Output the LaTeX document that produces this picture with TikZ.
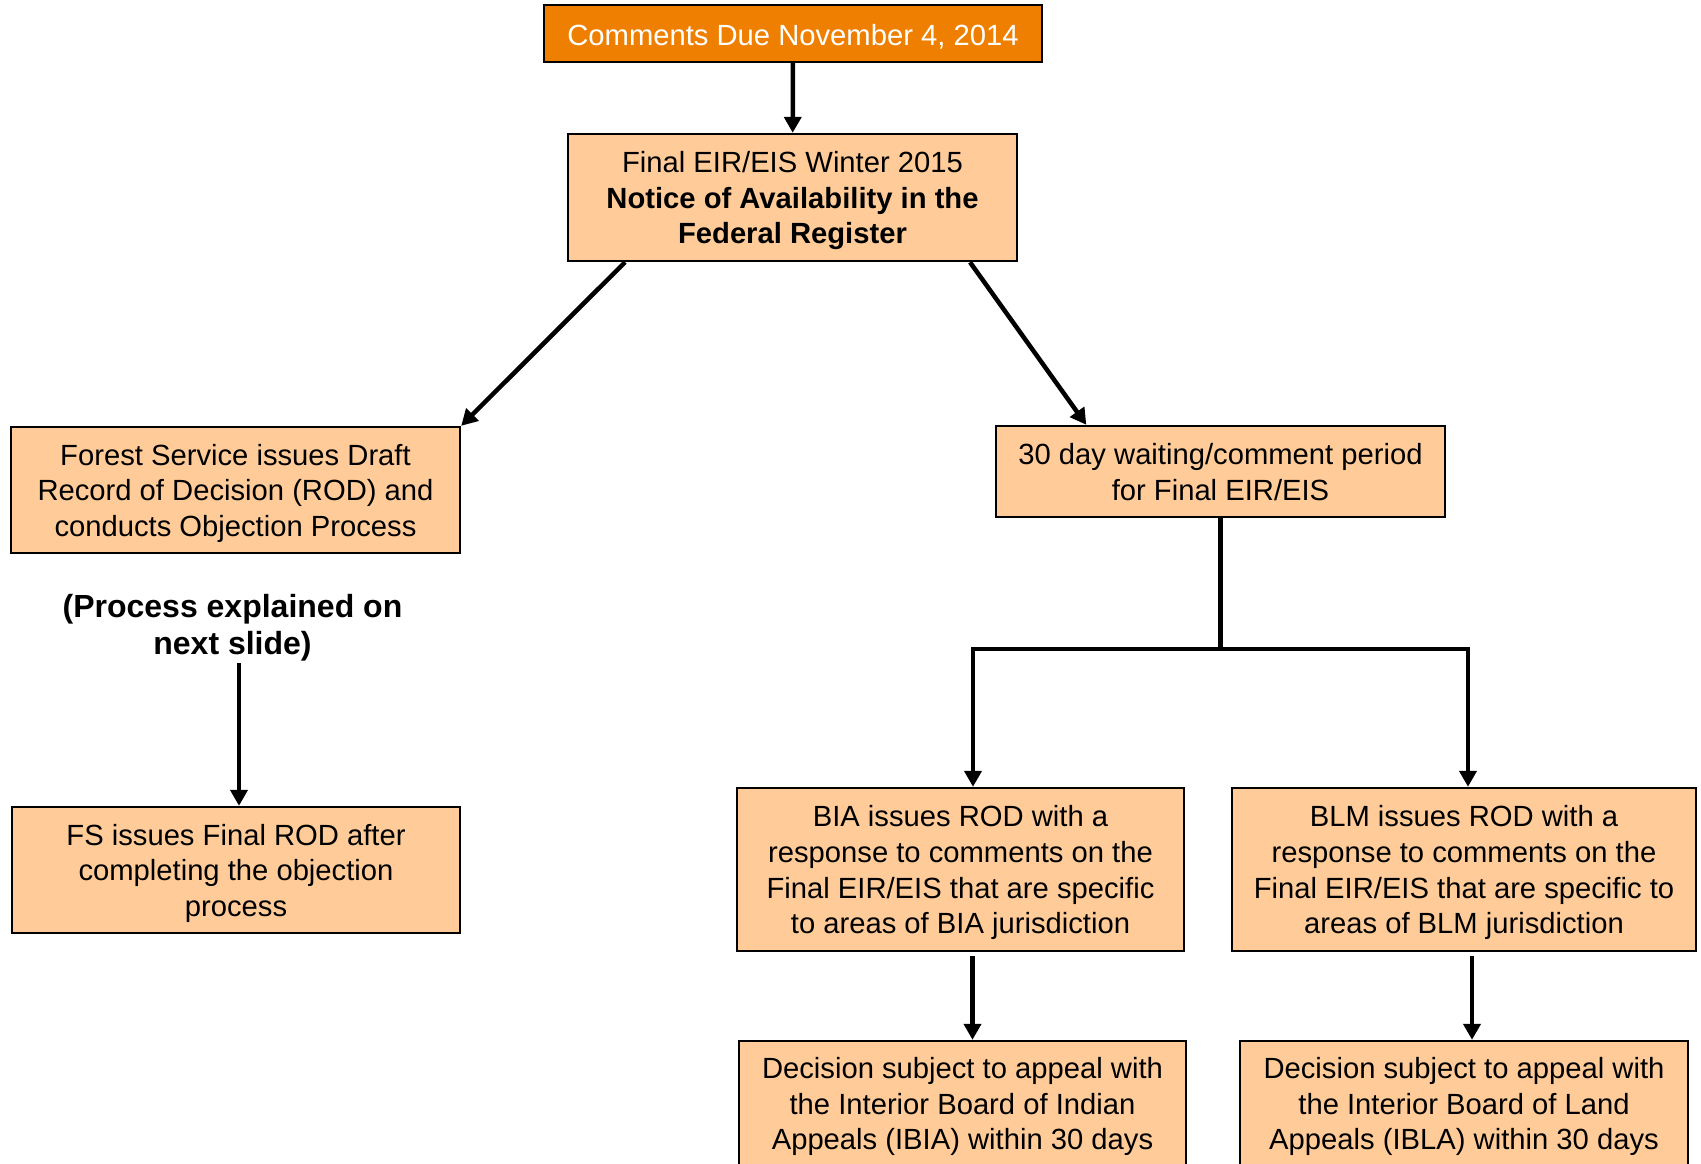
\documentclass[tikz,border=0pt]{standalone}
\usepackage{fontspec}
\setmainfont{Liberation Sans}
\usetikzlibrary{arrows.meta}
\definecolor{peach}{HTML}{FFCC99}
\definecolor{deeporange}{HTML}{EE7F00}
\newcommand\sA{\rule{0pt}{0.95em}}
\newcommand\sT{\rule{0pt}{1.03em}}
\newcommand\sD{\rule[-0.212em]{0pt}{0pt}}
\begin{document}
\begin{tikzpicture}[x=1pt,y=-1pt,
  box/.style={draw=black,line width=2.4pt,fill=peach,align=center,inner sep=0pt,
    font=\fontsize{29.2pt}{35.6pt}\selectfont},
  arr/.style={line width=4.5pt,-{Triangle[length=16pt,width=17pt]}},
  ln/.style={line width=4.5pt}]
\useasboundingbox (0,0) rectangle (1701,1163);
\clip (0,0) rectangle (1701,1163);
\fill[white] (0,0) rectangle (1701,1163);

\node[box,fill=deeporange,text=white,minimum width=498pt,minimum height=57pt] (due) at (793,33.5) {\sT Comments Due November 4, 2014\sD};
\node[box,minimum width=449pt,minimum height=127pt] (eir) at (792.5,197.5) {\sA Final EIR/EIS Winter 2015\\\textbf{Notice of Availability in the}\\\textbf{Federal Register}\sD};
\node[box,minimum width=449pt,minimum height=126pt] (forest) at (235.5,490) {\sA Forest Service issues Draft\\Record of Decision (ROD) and\\conducts Objection Process\sD};
\node[box,minimum width=449pt,minimum height=91pt] (thirty) at (1220.5,471.5) {\sA 30 day waiting/comment period\\for Final EIR/EIS\sD};
\node[align=center,inner sep=0pt,font=\bfseries\fontsize{32pt}{37pt}\selectfont] (proc) at (232.5,627.5) {(Process explained on\\next slide)};
\node[box,minimum width=448pt,minimum height=126pt] (fsf) at (236,870) {\sA FS issues Final ROD after\\completing the objection\\process\sD};
\node[box,minimum width=447pt,minimum height=163pt] (bia) at (960.5,869.5) {\sA BIA issues ROD with a\\response to comments on the\\Final EIR/EIS that are specific\\to areas of BIA jurisdiction\sD};
\node[box,minimum width=463.5pt,minimum height=163pt] (blm) at (1464,869.5) {\sA BLM issues ROD with a\\response to comments on the\\Final EIR/EIS that are specific to\\areas of BLM jurisdiction\sD};
\node[box,minimum width=447pt,minimum height=125pt] (ibia) at (962.5,1103.5) {\sA Decision subject to appeal with\\the Interior Board of Indian\\Appeals (IBIA) within 30 days\sD};
\node[box,minimum width=448pt,minimum height=125pt] (ibla) at (1464,1103.5) {\sA Decision subject to appeal with\\the Interior Board of Land\\Appeals (IBLA) within 30 days\sD};

\coordinate (jn) at (1220.5,649);
\coordinate (jl) at (973,649);
\coordinate (jr) at (1468,649);
\coordinate (pa) at (239,663);
\coordinate (b1) at (972.5,956);
\coordinate (b2) at (1472,956);

\draw[arr] (due) -- (eir);
\draw[arr] ([xshift=-167.5pt]eir.south) -- (forest.north east);
\draw[arr] ([xshift=177.5pt]eir.south) -- ([xshift=91.5pt]thirty.north west);
\draw[ln] (thirty) -- (jn);
\draw[ln,line cap=rect] (jl) -- (jr);
\draw[arr] (jl) -- (jl |- bia.north);
\draw[arr] (jr) -- (jr |- blm.north);
\draw[arr] (pa) -- (pa |- fsf.north);
\draw[arr] (b1) -- (b1 |- ibia.north);
\draw[arr] (b2) -- (b2 |- ibla.north);
\end{tikzpicture}
\end{document}
